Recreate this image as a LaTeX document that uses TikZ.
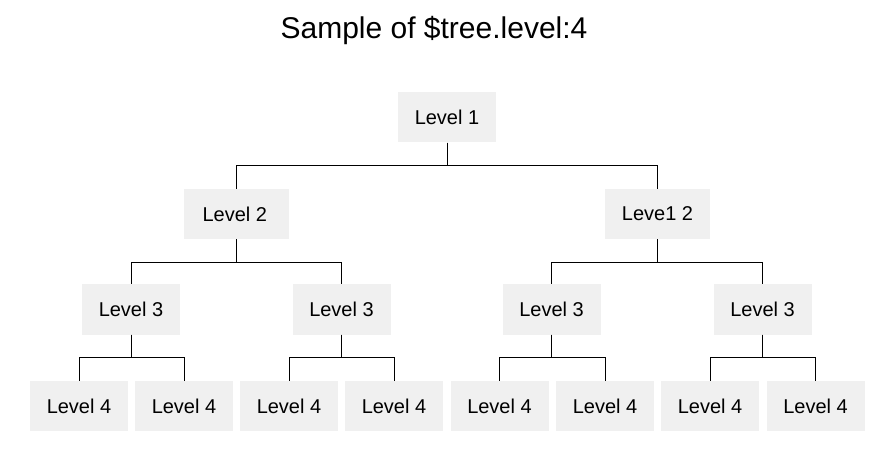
\documentclass[tikz,border=0pt]{standalone}
\usepackage{fontspec}
\setmainfont{Liberation Sans}
\usepackage{tikz}
\usetikzlibrary{positioning}
\definecolor{boxgray}{HTML}{F0F0F0}

\begin{document}
\begin{tikzpicture}[x=1pt, y=-1pt,
    lvl/.style={fill=boxgray, minimum width=98pt, minimum height=50pt, inner sep=0pt, font=\fontsize{20}{24}\selectfont},
    widelvl/.style={lvl, minimum width=105pt},
    link/.style={draw=black, line width=1pt}
]
\useasboundingbox (0,0) rectangle (894,462);
\node[font=\fontsize{30}{36}\selectfont] (title) at (434,31) {Sample of \$tree.level:4};

\node[lvl] (l1) at (447,117.5) {Level 1};
\node[widelvl] (l2a) at (236.5,214) {Level 2\,};
\node[widelvl] (l2b) at (657.5,214) {Leve1 2};
\node[lvl] (l3a) at (131,309.5) {Level 3};
\node[lvl] (l3b) at (341.5,309.5) {Level 3};
\node[lvl] (l3c) at (551.5,309.5) {Level 3};
\node[lvl] (l3d) at (762.5,309.5) {Level 3};
\node[lvl] (l4a) at (79,406) {Level 4};
\node[lvl] (l4b) at (184,406) {Level 4};
\node[lvl] (l4c) at (289,406) {Level 4};
\node[lvl] (l4d) at (394,406) {Level 4};
\node[lvl] (l4e) at (499.5,406) {Level 4};
\node[lvl] (l4f) at (605,406) {Level 4};
\node[lvl] (l4g) at (710,406) {Level 4};
\node[lvl] (l4h) at (815.5,406) {Level 4};

\draw[link] (l1.south) -- ++(0,23) -| (l2a.north);
\draw[link] (l1.south) -- ++(0,23) -| (l2b.north);
\draw[link] (l2a.south) -- ++(0,23) -| (l3a.north);
\draw[link] (l2a.south) -- ++(0,23) -| (l3b.north);
\draw[link] (l2b.south) -- ++(0,23) -| (l3c.north);
\draw[link] (l2b.south) -- ++(0,23) -| (l3d.north);
\draw[link] (l3a.south) -- ++(0,23) -| (l4a.north);
\draw[link] (l3a.south) -- ++(0,23) -| (l4b.north);
\draw[link] (l3b.south) -- ++(0,23) -| (l4c.north);
\draw[link] (l3b.south) -- ++(0,23) -| (l4d.north);
\draw[link] (l3c.south) -- ++(0,23) -| (l4e.north);
\draw[link] (l3c.south) -- ++(0,23) -| (l4f.north);
\draw[link] (l3d.south) -- ++(0,23) -| (l4g.north);
\draw[link] (l3d.south) -- ++(0,23) -| (l4h.north);
\end{tikzpicture}
\end{document}
